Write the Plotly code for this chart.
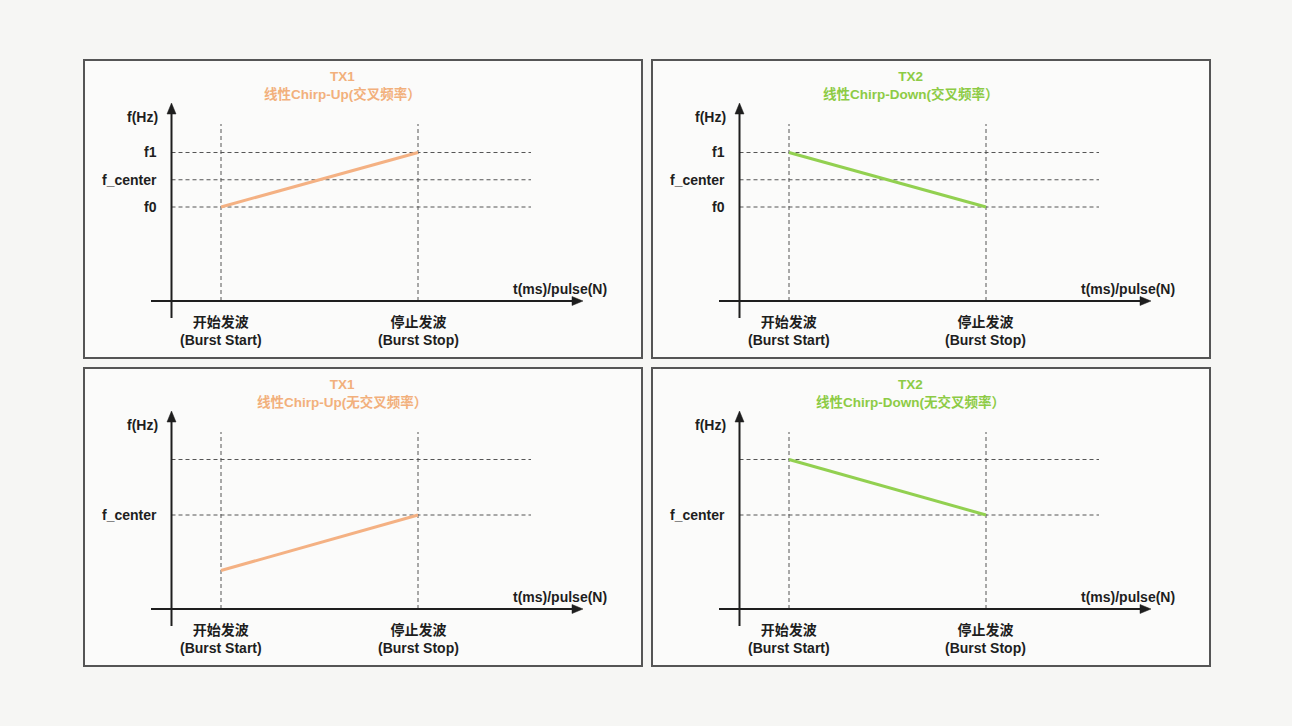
import plotly.graph_objects as go

W, H = 1292, 726

# ---------------- data ----------------
TIME_POINTS = [1, 5]                       # burst start, burst stop
TIME_LABELS = ["开始发波<br>(Burst Start)", "停止发波<br>(Burst Stop)"]

TOP_LEVELS = [1, 2, 3]
TOP_LEVEL_LABELS = ["f0", "f_center", "f1"]
BOTTOM_LEVELS = [2, 3]
BOTTOM_LEVEL_LABELS = ["f_center", ""]

TX1_CROSS = [1, 3]       # chirp-up, crossing
TX2_CROSS = [3, 1]       # chirp-down, crossing
TX1_NOCROSS = [1, 2]     # chirp-up, no crossing
TX2_NOCROSS = [3, 2]     # chirp-down, no crossing

TITLES = [
    "TX1<br>线性Chirp-Up(交叉频率）",
    "TX2<br>线性Chirp-Down(交叉频率）",
    "TX1<br>线性Chirp-Up(无交叉频率）",
    "TX2<br>线性Chirp-Down(无交叉频率）",
]
Y_TITLE = "f(Hz)"
X_TITLE = "t(ms)/pulse(N)"

ORANGE = "#F4B183"
GREEN = "#92D050"
TITLE_ORANGE = "#F2B07C"
TITLE_GREEN = "#8DCB45"
INK = "#1e1e1e"
BG = "#f6f6f4"
FONT = "Liberation Sans, Arial, Noto Sans CJK SC, sans-serif"

# ---------------- layout helpers (pixel geometry) ----------------
COL_DX = 568
ROW_DY = 308
START_PX, STOP_PX = 221, 418
YAXIS_PX = 171.5
XARROW_TIP_PX = 583
XAXIS_PY = 301
YARROW_TIP_PY = 103
YAXIS_BOTTOM_PY = 318
XAXIS_LEFT_PX = 151
GUIDE_RIGHT_PX = 531
GUIDE_TOP_PY = 124

# per row: (level_a, py_a, level_b, py_b)
ROW_ANCHORS = [(1, 207, 3, 152.5), (2, 515 - ROW_DY, 3, 459.5 - ROW_DY)]

xscale = (STOP_PX - START_PX) / (TIME_POINTS[1] - TIME_POINTS[0])


def px_to_t(px):
    return TIME_POINTS[0] + (px - START_PX) / xscale


def py_to_f(row, py):
    la, pa, lb, pb = ROW_ANCHORS[row]
    s = (pa - pb) / (lb - la)
    return la + (pa - py) / s


def PX(px):
    return px / W


def PY(py):
    return 1 - py / H


panels = [
    dict(row=0, col=0, chirp=TX1_CROSS, color=ORANGE, tcolor=TITLE_ORANGE,
         levels=TOP_LEVELS, labels=TOP_LEVEL_LABELS, title=TITLES[0]),
    dict(row=0, col=1, chirp=TX2_CROSS, color=GREEN, tcolor=TITLE_GREEN,
         levels=TOP_LEVELS, labels=TOP_LEVEL_LABELS, title=TITLES[1]),
    dict(row=1, col=0, chirp=TX1_NOCROSS, color=ORANGE, tcolor=TITLE_ORANGE,
         levels=BOTTOM_LEVELS, labels=BOTTOM_LEVEL_LABELS, title=TITLES[2]),
    dict(row=1, col=1, chirp=TX2_NOCROSS, color=GREEN, tcolor=TITLE_GREEN,
         levels=BOTTOM_LEVELS, labels=BOTTOM_LEVEL_LABELS, title=TITLES[3]),
]

fig = go.Figure()
shapes = []
annotations = []
layout_axes = {}

for i, p in enumerate(panels):
    n = i + 1
    xa = "x" if n == 1 else f"x{n}"
    ya = "y" if n == 1 else f"y{n}"
    dx = p["col"] * COL_DX
    dy = p["row"] * ROW_DY
    row = p["row"]

    # panel frame
    shapes.append(dict(type="rect", xref="paper", yref="paper",
                       x0=PX(84 + dx), x1=PX(642 + dx),
                       y0=PY(60 + dy), y1=PY(358 + dy),
                       line=dict(color="#555555", width=2),
                       fillcolor="#fbfbfa", layer="below"))

    # axis domain: y-axis line .. x arrow tip ; x-axis line .. y arrow tip
    x0px, x1px = YAXIS_PX + dx, XARROW_TIP_PX + dx
    ytop, ybot = YARROW_TIP_PY + dy, XAXIS_PY + dy
    xr = [px_to_t(YAXIS_PX), px_to_t(XARROW_TIP_PX)]
    yr = [py_to_f(row, XAXIS_PY), py_to_f(row, YARROW_TIP_PY)]
    layout_axes["xaxis" if n == 1 else f"xaxis{n}"] = dict(
        domain=[PX(x0px), PX(x1px)], range=xr, visible=False, anchor=ya,
        fixedrange=True)
    layout_axes["yaxis" if n == 1 else f"yaxis{n}"] = dict(
        domain=[PY(ybot), PY(ytop)], range=yr, visible=False, anchor=xa,
        fixedrange=True)

    dash = dict(color="#555555", width=1, dash="4px,3px")
    t_left = px_to_t(YAXIS_PX)
    t_right = px_to_t(GUIDE_RIGHT_PX)
    f_bottom = py_to_f(row, XAXIS_PY)
    f_top = py_to_f(row, GUIDE_TOP_PY)

    # horizontal guides at frequency levels
    for lv, lab in zip(p["levels"], p["labels"]):
        fig.add_trace(go.Scatter(x=[t_left, t_right], y=[lv, lv], mode="lines",
                                 line=dash, xaxis=xa, yaxis=ya,
                                 hoverinfo="skip", showlegend=False))
        if lab:
            annotations.append(dict(xref="paper", yref=ya, x=PX(159 + dx), y=lv,
                                    xanchor="right", yanchor="middle",
                                    text=f"<b>{lab}</b>", showarrow=False,
                                    font=dict(family=FONT, size=14, color=INK)))
    # vertical guides at burst start/stop
    for t, lab in zip(TIME_POINTS, TIME_LABELS):
        fig.add_trace(go.Scatter(x=[t, t], y=[f_bottom, f_top], mode="lines",
                                 line=dash, xaxis=xa, yaxis=ya,
                                 hoverinfo="skip", showlegend=False))
        annotations.append(dict(xref=xa, yref="paper", x=t, y=PY(330.5 + dy),
                                xanchor="center", yanchor="middle",
                                text=f"<b>{lab}</b>", showarrow=False,
                                font=dict(family=FONT, size=14, color=INK)))

    # chirp line
    fig.add_trace(go.Scatter(x=TIME_POINTS, y=p["chirp"], mode="lines",
                             line=dict(color=p["color"], width=3),
                             xaxis=xa, yaxis=ya, hoverinfo="skip",
                             showlegend=False))

    # axes with arrows
    ax_line = dict(color=INK, width=2)
    shapes.append(dict(type="line", xref="paper", yref="paper",
                       x0=PX(YAXIS_PX + dx), x1=PX(YAXIS_PX + dx),
                       y0=PY(YAXIS_BOTTOM_PY + dy), y1=PY(YARROW_TIP_PY + 8 + dy),
                       line=ax_line))
    shapes.append(dict(type="line", xref="paper", yref="paper",
                       x0=PX(XAXIS_LEFT_PX + dx), x1=PX(XARROW_TIP_PX - 8 + dx),
                       y0=PY(XAXIS_PY + dy), y1=PY(XAXIS_PY + dy),
                       line=ax_line))
    # arrow heads (triangles)
    cx, ty = YAXIS_PX + dx, YARROW_TIP_PY + dy
    shapes.append(dict(type="path", xref="paper", yref="paper",
                       path=f"M {PX(cx)} {PY(ty)} L {PX(cx - 4.5)} {PY(ty + 11)} "
                            f"L {PX(cx + 4.5)} {PY(ty + 11)} Z",
                       fillcolor=INK, line=dict(color=INK, width=0.5)))
    tx, cy = XARROW_TIP_PX + dx, XAXIS_PY + dy
    shapes.append(dict(type="path", xref="paper", yref="paper",
                       path=f"M {PX(tx)} {PY(cy)} L {PX(tx - 11)} {PY(cy - 4.5)} "
                            f"L {PX(tx - 11)} {PY(cy + 4.5)} Z",
                       fillcolor=INK, line=dict(color=INK, width=0.5)))

    # axis titles
    annotations.append(dict(xref="paper", yref="paper", x=PX(160 + dx),
                            y=PY(117 + dy), xanchor="right", yanchor="middle",
                            text=f"<b>{Y_TITLE}</b>", showarrow=False,
                            font=dict(family=FONT, size=14, color=INK)))
    annotations.append(dict(xref="paper", yref="paper", x=PX(609 + dx),
                            y=PY(289 + dy), xanchor="right", yanchor="middle",
                            text=f"<b>{X_TITLE}</b>", showarrow=False,
                            font=dict(family=FONT, size=14, color=INK)))
    # panel title
    annotations.append(dict(xref="paper", yref="paper", x=PX(342 + dx),
                            y=PY(85.5 + dy), xanchor="center", yanchor="middle",
                            text=f"<b>{p['title']}</b>", showarrow=False,
                            font=dict(family=FONT, size=13.5, color=p["tcolor"])))

fig.update_layout(
    width=W, height=H,
    margin=dict(l=0, r=0, t=0, b=0),
    paper_bgcolor=BG,
    plot_bgcolor="rgba(0,0,0,0)",
    shapes=shapes,
    annotations=annotations,
    showlegend=False,
    **layout_axes,
)

fig.write_html(
    "out.html",
    config={"displayModeBar": False},
    post_script=(f"document.body.style.margin='0';"
                 f"document.body.style.background='{BG}';"
                 f"document.body.style.overflow='hidden';"),
)
